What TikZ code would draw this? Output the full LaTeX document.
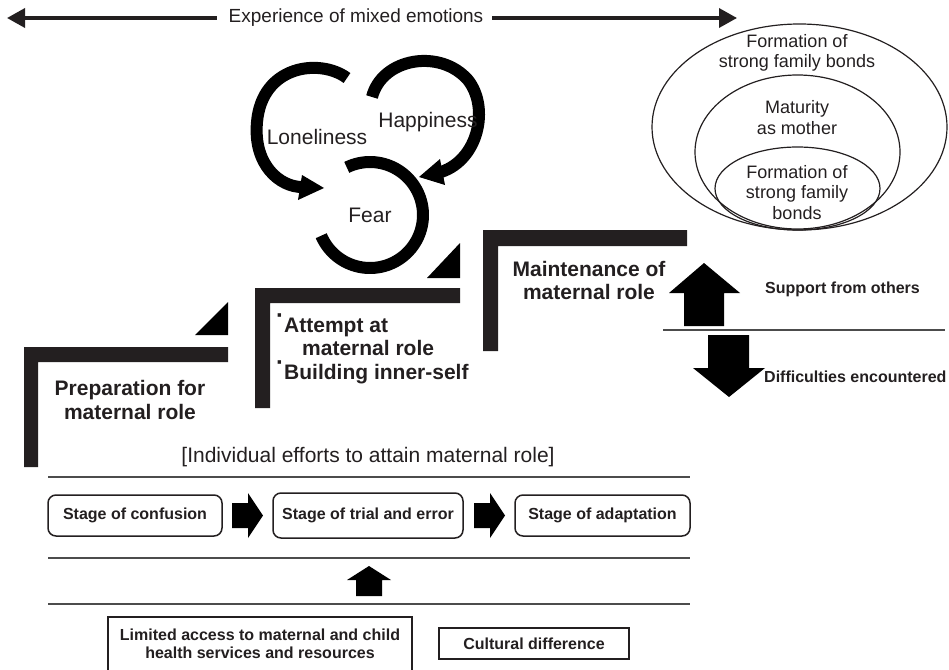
\documentclass[tikz,border=0pt]{standalone}
\usepackage{fontspec}
\setmainfont{Liberation Sans}
\usetikzlibrary{arrows.meta,shapes.geometric}
\definecolor{ink}{HTML}{231F20}
\newcommand{\updot}{\raisebox{.42em}{\fontsize{24}{24}\selectfont·}}
\begin{document}
\begin{tikzpicture}[x=1pt,y=-1pt,
  reg/.style={font=\fontsize{19}{22}\selectfont, inner sep=0pt, text=ink},
  emo/.style={font=\fontsize{21}{24}\selectfont, inner sep=0pt, text=ink},
  elltext/.style={font=\fontsize{18}{20.5}\selectfont, inner sep=0pt, align=center, text=ink},
  boldbig/.style={font=\fontsize{21}{23.5}\selectfont\bfseries, inner sep=0pt, text=ink},
  boldsm/.style={font=\fontsize{16}{18}\selectfont\bfseries, inner sep=0pt, text=ink},
  topline/.style={line width=3.5pt, draw=ink, -{Triangle[length=18pt,width=19pt]}},
  ell/.style={ellipse, draw=ink, line width=1.2pt, inner sep=0pt},
  emoarc/.style={line width=12pt, draw=black},
  stepbar/.style={fill=ink},
  hline/.style={draw=black!70, line width=2pt},
  stagebox/.style={draw=ink, line width=1.5pt, rounded corners=8pt, minimum height=42pt,
    font=\fontsize{16}{18}\selectfont\bfseries, inner sep=0pt, text=ink},
  plainbox/.style={draw=ink, line width=1.5pt, inner sep=0pt},
  blockarrow/.style={fill=black}
]
\useasboundingbox (0,0) rectangle (949,669);

% top arrow
\node[reg] (exp) at (356,18) {Experience of mixed emotions};
\coordinate (lt) at (7,18);
\coordinate (rt) at (737,18);
\draw[topline, shorten <=12pt] (exp.west) -- (lt);
\draw[topline, shorten <=9pt] (exp.east) -- (rt);

% ellipses
\node[ell, minimum width=295pt, minimum height=206pt] (e1) at (799.5,127) {};
\node[ell, minimum width=205pt, minimum height=154pt] (e2) at (797.5,152) {};
\node[ell, minimum width=165pt, minimum height=83pt] (e3) at (797.5,188.5) {};
\node[elltext] (t1) at (797,53) {Formation of\\strong family bonds};
\node[elltext] (t2) at (797,117.5) {Maturity\\as mother};
\node[elltext] (t3) at (797,192.5) {Formation of\\strong family\\bonds};

% emotion circles
\draw[emoarc] (347,78) .. controls (320,58) and (262,65) .. (257,122)
   .. controls (253,165) and (280,187) .. (302,187);
\fill (302,175) -- (324,188) -- (298,200) -- cycle;
\draw[emoarc] (372,97) .. controls (382,58) and (440,48) .. (468,80)
   .. controls (490,108) and (478,160) .. (441,172);
\fill (440,159) -- (419,177) -- (445,185) -- cycle;
\draw[emoarc, domain=-116:157, samples=80, smooth] plot ({370+53*cos(\x)},{215+53*sin(\x)});
\node[emo] (lon) at (317,137) {Loneliness};
\node[emo] (hap) at (428,122) {Happiness};
\node[emo] (fear) at (370,215) {Fear};

% steps
\fill[stepbar] (24,347) -- (228,347) -- (228,362) -- (38,362) -- (38,467) -- (24,467) -- cycle;
\fill[stepbar] (255,288) -- (460,288) -- (460,303) -- (270,303) -- (270,408) -- (255,408) -- cycle;
\fill[stepbar] (483,230) -- (687,230) -- (687,246) -- (498,246) -- (498,351) -- (483,351) -- cycle;
\fill[black] (228,302) -- (228,335) -- (195,335) -- cycle;
\fill[black] (460,243) -- (460,278) -- (427,278) -- cycle;

\node[boldbig, align=center] (prep) at (130,400) {Preparation for\\maternal role};
\node[boldbig, align=left, anchor=west] (att) at (276,348.5)
  {\updot Attempt at\\\hspace*{26pt}maternal role\\\updot Building inner-self};
\node[boldbig, align=center] (maint) at (589,280.5) {Maintenance of\\maternal role};

% support / difficulties
\fill[blockarrow] (684,326) -- (684,293) -- (669,293) -- (704,263) -- (740,293) -- (724,293) -- (724,326) -- cycle;
\fill[blockarrow] (708,335) -- (749,335) -- (749,368) -- (765,368) -- (729,397) -- (693,368) -- (708,368) -- cycle;
\draw[hline] (663,329.5) -- (945,329.5);
\node[boldsm, anchor=west] (sup) at (765,289) {Support from others};
\node[boldsm, anchor=west] (dif) at (764,377) {Difficulties encountered};

% individual efforts
\node[emo] (ind) at (368,457) {[Individual efforts to attain maternal role]};
\draw[hline] (48,477) -- (690,477);
\draw[hline] (48,558) -- (690,558);
\draw[hline] (48,604) -- (690,604);

\node[stagebox, minimum width=174pt, minimum height=41pt] (s1) at (135,515.5) {Stage of confusion};
\node[stagebox, minimum width=190pt, minimum height=45pt] (s2) at (368,515.5) {Stage of trial and error};
\node[stagebox, minimum width=175pt, minimum height=41pt] (s3) at (602.5,515.5) {Stage of adaptation};
\fill[blockarrow] (232,503) -- (248,503) -- (248,493) -- (263,515.5) -- (248,538) -- (248,528) -- (232,528) -- cycle;
\fill[blockarrow] (474,503) -- (490,503) -- (490,493) -- (505,515.5) -- (490,538) -- (490,528) -- (474,528) -- cycle;

\fill[blockarrow] (356,596) -- (356,580) -- (347,580) -- (369,566) -- (391,580) -- (382,580) -- (382,596) -- cycle;

% bottom boxes
\draw[plainbox] (108,690) -- (108,617) -- (412,617) -- (412,690);
\node[boldsm, align=center] (lim) at (260,644) {Limited access to maternal and child\\health services and resources};
\node[plainbox, boldsm, minimum width=190pt, minimum height=31pt] (cult) at (534,643.5) {Cultural difference};
\end{tikzpicture}
\end{document}
